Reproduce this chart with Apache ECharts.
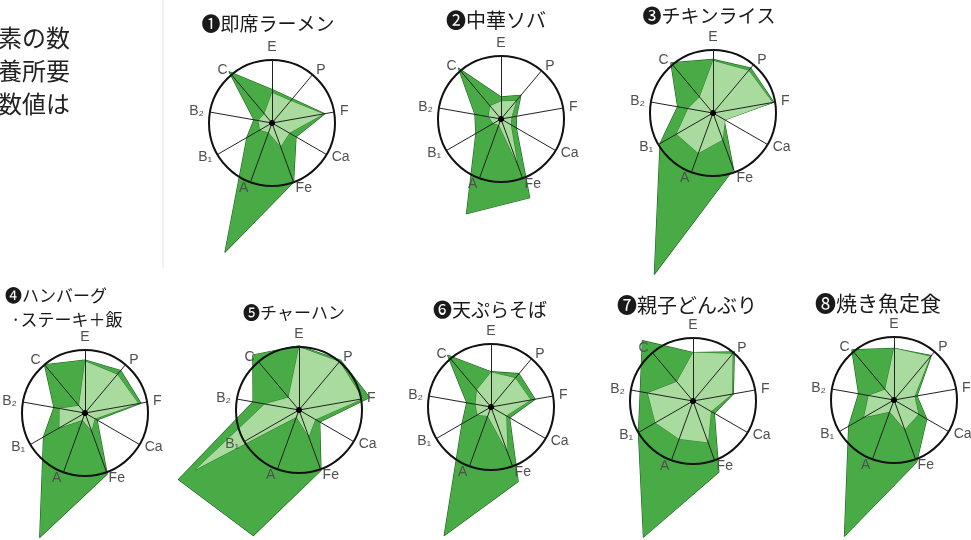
<!DOCTYPE html>
<html>
<head>
<meta charset="utf-8">
<title>料理別 栄養素バランス</title>
<script src="https://cdn.jsdelivr.net/npm/echarts@6/dist/echarts.min.js"></script>
<style>body{margin:0;background:#fff;}</style>
</head>
<body>
<div id="main" style="width:971px;height:540px;"></div>
<script type="text/javascript">
// 栄養素（上から時計回り）
var nutrients = ['E', 'P', 'F', 'Ca', 'Fe', 'A', 'B₁', 'B₂', 'C'];
var dishes = ['❶即席ラーメン', '❷中華ソバ', '❸チキンライス', '❹ハンバーグ', '❺チャーハン', '❻天ぷらそば', '❼親子どんぶり', '❽焼き魚定食'];
var subTitle4 = '·ステーキ＋飯';
var noteLines = ['素の数', '養所要', '数値は'];

// 所要量を100とした値（円=100）: E, P, F, Ca, Fe, A, B1, B2, C
var dark1  = [53, 50, 85, 44, 100, 218, 46, 29, 106];
var light1 = [48, 46, 83, 32, 40, 16, 22, 22, 19];
var dark2  = [35, 49, 25, 28, 133, 160, 46, 42, 105];
var light2 = [28, 38, 17, 18, 78, 10, 14, 20, 27];
var dark3  = [85, 93, 98, 20, 95, 272, 97, 57, 104];
var light3 = [83, 88, 96, 22, 45, 68, 67, 40, 33];
var dark4  = [84, 88, 90, 22, 103, 210, 76, 50, 100];
var light4 = [82, 80, 86, 18, 30, 12, 47, 41, 15];
var dark5  = [102, 103, 114, 38, 102, 212, 221, 74, 114];
var light5 = [100, 100, 103, 30, 45, 12, 190, 55, 26];
var dark6  = [56, 69, 71, 34, 126, 217, 53, 39, 107];
var light6 = [55, 60, 64, 28, 77, 15, 25, 25, 35];
var dark7  = [77, 102, 65, 39, 120, 230, 100, 85, 125];
var light7 = [77, 98, 63, 33, 70, 64, 69, 73, 40];
var dark8  = [82, 92, 37, 60, 105, 230, 83, 57, 104];
var light8 = [82, 90, 33, 45, 50, 20, 55, 41, 22];

var darkSets = [dark1, dark2, dark3, dark4, dark5, dark6, dark7, dark8];
var lightSets = [light1, light2, light3, light4, light5, light6, light7, light8];

// 配置
var centers = [[272, 123], [501, 119], [713, 113], [85, 413], [299, 410], [491, 407], [693, 401], [894, 400]];
var titlePos = [[268, 24], [496, 20], [709, 16], [5, 296], [294, 313], [490, 310], [687, 305], [878, 303]];
var titleSize = [19, 20, 19, 17, 17, 19, 20, 21];

// EChartsのレーダーは反時計回りなので並べ替え
var order = [0, 8, 7, 6, 5, 4, 3, 2, 1];
var fontJP = '"Noto Sans CJK JP", sans-serif';

var radars = [];
var series = [];
var graphics = [];

for (var k = 0; k < 8; k++) {
    radars.push({
        center: centers[k],
        radius: 63,
        startAngle: 90,
        shape: 'circle',
        splitNumber: 1,
        z: 10,
        nameGap: 6,
        indicator: order.map(function (i) { return { name: nutrients[i], min: 0, max: 100 }; }),
        axisName: { color: '#505050', fontSize: 14, fontFamily: '"Liberation Sans", "DejaVu Sans", sans-serif' },
        splitLine: { lineStyle: { color: '#111', width: 2 } },
        splitArea: { show: false },
        axisLine: { lineStyle: { color: '#222', width: 1 } },
        axisTick: { show: false },
        axisLabel: { show: false }
    });
    series.push({
        type: 'radar', radarIndex: k, symbol: 'none', z: 2, silent: true,
        data: [{ value: order.map(function (i) { return darkSets[k][i]; }) }],
        lineStyle: { color: '#1f5f1f', width: 1.2 },
        areaStyle: { color: '#48ab46', opacity: 1 }
    });
    series.push({
        type: 'radar', radarIndex: k, symbol: 'none', z: 2, silent: true,
        data: [{ value: order.map(function (i) { return lightSets[k][i]; }) }],
        lineStyle: { color: '#2f7a2f', width: 1 },
        areaStyle: { color: '#a8db9d', opacity: 1 }
    });
    // 中心の点
    series.push({
        type: 'radar', radarIndex: k, symbol: 'circle', symbolSize: 5, z: 12, silent: true,
        itemStyle: { color: '#000' },
        lineStyle: { width: 0 },
        data: [{ value: [0, 0, 0, 0, 0, 0, 0, 0, 0] }]
    });
    graphics.push({
        type: 'text', x: titlePos[k][0], y: titlePos[k][1], z: 20,
        style: {
            text: dishes[k], font: titleSize[k] + 'px ' + fontJP, fill: '#1a1a1a',
            textAlign: k === 3 ? 'left' : 'center', textVerticalAlign: 'middle'
        }
    });
}

graphics.push({
    type: 'text', x: 11, y: 320, z: 20,
    style: { text: subTitle4, font: '17px ' + fontJP, fill: '#1a1a1a', textAlign: 'left', textVerticalAlign: 'middle' }
});

// 左上の本文（切れている）
noteLines.forEach(function (t, i) {
    graphics.push({
        type: 'text', x: -2, y: 38 + i * 33, z: 20,
        style: { text: t, font: '24px ' + fontJP, fill: '#222', textAlign: 'left', textVerticalAlign: 'middle' }
    });
});
graphics.push({
    type: 'line', z: 1, shape: { x1: 163, y1: 0, x2: 163, y2: 268 },
    style: { stroke: '#e4e4e4', lineWidth: 1 }
});

var chart = echarts.init(document.getElementById('main'));
chart.setOption({
    animation: false,
    backgroundColor: '#ffffff',
    radar: radars,
    series: series,
    graphic: graphics
});
</script>
</body>
</html>
